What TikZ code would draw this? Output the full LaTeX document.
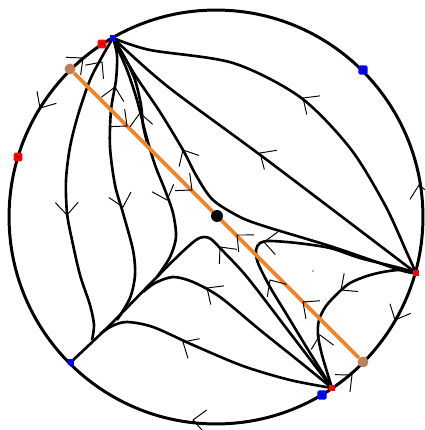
\documentclass[tikz,border=0pt]{standalone}
\definecolor{sepor}{RGB}{240,130,40}
\definecolor{saddlebr}{RGB}{188,128,92}
\pgfdeclarelayer{back}
\pgfsetlayers{back,main}
\tikzset{
  orbit/.style={line width=1.5pt, line join=round},
  sepline/.style={sepor, line width=2.2pt},
  chev/.pic={\draw[line width=0.55pt] (-12.6,11.4) -- (0,0) -- (-12.6,-11.4);},
  bigred/.style={fill=red, rounded corners=1pt, minimum size=5pt, inner sep=0pt},
  smallred/.style={fill=red, minimum size=3.6pt, inner sep=0pt},
  bigblue/.style={fill=blue, rounded corners=1pt, minimum size=5.4pt, inner sep=0pt},
  smallblue/.style={fill=blue, minimum size=3.6pt, inner sep=0pt},
  saddle/.style={circle, fill=saddlebr, minimum size=6.2pt, inner sep=0pt},
}
\begin{document}
\begin{tikzpicture}[x=0.02cm, y=-0.02cm]
  \useasboundingbox (0,0) rectangle (424,430);
  % equilibria
  \node[smallblue] (T) at (113,38) {};
  \node[bigred] (Rq) at (102,44) {};
  \node[saddle] (B1) at (70,69) {};
  \node[bigred] (L) at (18,157) {};
  \node[bigblue] (UR) at (363,70) {};
  \node[smallred] (R) at (416,273) {};
  \node[saddle] (B2) at (363,362) {};
  \node[smallred] (Bs) at (332,388) {};
  \node[bigblue] (Bb) at (322,395) {};
  \node[smallblue] (LL) at (71,362) {};
  \node[circle, fill=black, minimum size=6.8pt, inner sep=0pt] (C) at (217,216) {};
  \foreach \p in {Rq,L,UR,Bb} \fill (\p) circle[radius=0.6pt];
  \fill[black!60] (313,271) circle[radius=0.5pt];

  \begin{pgfonlayer}{back}
    \draw[orbit, line width=1.7pt] (216,217) circle[radius=4.14cm];
    % fan from the top
    \draw[orbit] plot[smooth] coordinates {(T.center) (150,50) (233,63) (300,97) (350,148) (385,205) (407,253) (R.center)};
    \draw[orbit] plot[smooth] coordinates {(T.center) (167,86) (267,160) (R.center)};
    \draw[orbit] plot[smooth] coordinates {(T.center) (135,75) (160,112) (183,150) (197,177) (213,200) (240,217) (267,227) (333,247) (400,270) (R.center)};
    \draw[orbit] plot[smooth] coordinates {(T.center) (127,70) (137,100) (146,135) (155,165) (165,190) (173,213) (176,237) (170,257) (157,277)};
    \draw[orbit] plot[smooth] coordinates {(T.center) (125,58) (135,80) (141,105) (143,125) (147,142)};
    \draw[orbit] plot[smooth] coordinates {(T.center) (117,55) (116,80) (111,110) (110,147) (115,185) (123,213) (133,250) (135,275) (130,298) (117,320)};
    \draw[orbit] plot[smooth] coordinates {(T.center) (103,55) (90,80) (78,115) (70,147) (66,180) (67,213) (72,240) (80,275) (90,305) (94,325) (92,340)};
    % fan from the bottom
    \draw[orbit] plot[smooth] coordinates {(LL.center) (110,325) (150,284) (180,254) (196,240) (204,237) (211,239) (220,248) (247,277) (290,333) (Bs.center)};
    \draw[orbit] plot[smooth] coordinates {(100,334) (112,326) (127,322) (153,327) (193,345) (243,366) (290,380) (Bs.center)};
    \draw[orbit] plot[smooth] coordinates {(143,292) (155,283) (173,277) (193,282) (220,297) (260,330) (300,362) (Bs.center)};
    \draw[orbit] plot[smooth] coordinates {(R.center) (400,268) (360,258) (330,248) (297,243) (270,241) (260,243) (256,250) (258,263) (270,287) (287,315) (307,348) (Bs.center)};
    \draw[orbit] plot[smooth] coordinates {(R.center) (400,270) (383,272) (367,276) (350,283) (338,293) (326,306) (319,320) (318,335) (322,355) (Bs.center)};
    \draw[sepline] (B1) -- (B2);
  \end{pgfonlayer}

  % flow direction
  \pic[rotate=238] at (40,108) {chev};
  \pic[rotate=40] at (83,58) {chev};
  \pic[rotate=100] at (419,185) {chev};
  \pic[rotate=245] at (395,320) {chev};
  \pic[rotate=41] at (352,375) {chev};
  \pic[rotate=174] at (193,420) {chev};
  \pic[rotate=145] at (303,98) {chev};
  \pic[rotate=147] at (260,153) {chev};
  \pic[rotate=119] at (183,150) {chev};
  \pic[rotate=96] at (140,113) {chev};
  \pic[rotate=79] at (115,87) {chev};
  \pic[rotate=284] at (123,207) {chev};
  \pic[rotate=53] at (102,62) {chev};
  \pic[rotate=271] at (67,215) {chev};
  \pic[rotate=289] at (167,200) {chev};
  \pic[rotate=130] at (220,247) {chev};
  \pic[rotate=145] at (207,288) {chev};
  \pic[rotate=149] at (183,342) {chev};
  \pic[rotate=174] at (264,242) {chev};
  \pic[rotate=123] at (270,280) {chev};
  \pic[rotate=217] at (341,290) {chev};
  \pic[rotate=101] at (320,335) {chev};
  \pic[rotate=-40] at (127,126) {chev};
  \pic[rotate=-40] at (192,190) {chev};
  \pic[rotate=138] at (237,235) {chev};
  \pic[rotate=142] at (303,302) {chev};
\end{tikzpicture}
\end{document}
